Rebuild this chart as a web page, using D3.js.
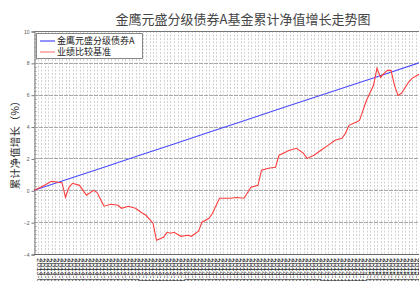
<!DOCTYPE html>
<html>
<head>
<meta charset="utf-8">
<script src="https://cdn.jsdelivr.net/npm/d3@7/dist/d3.min.js"></script>
<style>
  body { margin: 0; background: #fff; }
  svg { display: block; font-family: "Noto Sans CJK SC", "Noto Sans", sans-serif; }
</style>
</head>
<body>
<svg id="chart" width="419" height="281"></svg>
<script>
// chart texts
const titleText = "金鹰元盛分级债券A基金累计净值增长走势图";
const yLabelText = "累计净值增长（%）";
const seriesNames = ["金鹰元盛分级债券A", "业绩比较基准"];
const yTicks = [-4, -2, 0, 2, 4, 6, 8, 10];

// weekly dates on the x axis (one label per grid line)
const firstDate = new Date(2013, 2, 15);
const weekCount = 118;
const dateLabels = d3.timeWeek
  .every(1)
  .range(firstDate, d3.timeWeek.offset(firstDate, weekCount))
  .map(d3.timeFormat("%Y-%m-%d"));

// fund cumulative growth, [week index, %]
const fundSeries = [
  [0, 0], [10, 0.72], [20, 1.45], [30, 2.18], [40, 2.9], [50, 3.64],
  [60, 4.36], [70, 5.1], [80, 5.82], [90, 6.55], [100, 7.27], [110, 8.0],
  [117, 8.5],
];

// benchmark cumulative growth, [week index, %]
const benchSeries = [
  [0, 0], [1, 0.1], [3, 0.31], [5, 0.56], [7, 0.5], [8, 0.48], [9, -0.44],
  [10, 0.19], [11, 0.44], [13, 0.31], [15, -0.31], [17, 0], [18, -0.13],
  [19, -0.56], [20, -1.0], [22, -0.88], [24, -0.94], [25, -1.13], [27, -1.0],
  [29, -1.13], [31, -1.44], [32, -1.57], [34, -2.07], [35, -3.14], [37, -2.95],
  [38, -2.64], [39, -2.7], [40, -2.64], [42, -2.89], [44, -2.82], [45, -2.89],
  [47, -2.57], [48, -2.0], [50, -1.76], [51, -1.44], [53, -0.5], [56, -0.5],
  [58, -0.45], [60, -0.5], [62, 0.19], [64, 0.31], [65, 1.26], [67, 1.38],
  [69, 1.44], [70, 2.2], [73, 2.51], [75, 2.64], [77, 2.32], [78, 2.0],
  [80, 2.2], [82, 2.51], [84, 2.82], [86, 3.14], [88, 3.26], [89, 3.58],
  [90, 4.08], [92, 4.27], [93, 4.39], [94, 5.02], [95, 5.65], [97, 6.59],
  [98, 7.66], [99, 7.09], [100, 7.34], [101, 7.53], [102, 7.53], [103, 6.59],
  [104, 5.96], [105, 6.09], [107, 6.78], [108, 7.03], [110, 7.28], [112, 7.4],
];

const colors = { fund: "#4a4aff", bench: "#ff3c3c" };

/* plot frame */
const plot = { left: 34, top: 31, bottom: 254, step: 3.5 };
plot.right = plot.left + plot.step * (dateLabels.length - 1);

const svg = d3.select("#chart");

const x = d3.scaleLinear()
  .domain([0, dateLabels.length - 1])
  .range([plot.left, plot.right]);
const y = d3.scaleLinear()
  .domain([-4, 10])
  .range([plot.bottom, plot.top]);

// vertical dashed grid, one per date
svg.append("g")
  .selectAll("line")
  .data(dateLabels)
  .join("line")
  .attr("x1", (d, i) => Math.round(x(i)) + 0.5)
  .attr("x2", (d, i) => Math.round(x(i)) + 0.5)
  .attr("y1", plot.top)
  .attr("y2", plot.bottom)
  .attr("stroke", "#d2d2d2")
  .attr("stroke-dasharray", "2,1.5");

// horizontal grid
svg.append("g")
  .selectAll("line")
  .data(yTicks)
  .join("line")
  .attr("x1", plot.left)
  .attr("x2", plot.right)
  .attr("y1", (d) => Math.round(y(d)) + 0.5)
  .attr("y2", (d) => Math.round(y(d)) + 0.5)
  .attr("stroke", "#a8a8a8")
  .attr("stroke-dasharray", "4,1");

// left axis with ruler-like minor ticks
const yAxis = d3.axisLeft(y)
  .tickValues(yTicks)
  .tickSize(3)
  .tickPadding(2);
const yAxisG = svg.append("g")
  .attr("transform", `translate(${plot.left + 0.5},0.5)`)
  .call(yAxis);
yAxisG.select(".domain").attr("stroke", "#777");
yAxisG.selectAll(".tick line").attr("stroke", "#777");
yAxisG.selectAll(".tick text")
  .attr("fill", "#555")
  .style("font-size", "5px")
  .style("font-family", "Liberation Sans, Arial, sans-serif");
yAxisG.append("g")
  .selectAll("line")
  .data(d3.range(-4, 10.01, 0.25))
  .join("line")
  .attr("x1", 0)
  .attr("x2", 2)
  .attr("y1", (d) => Math.round(y(d)))
  .attr("y2", (d) => Math.round(y(d)))
  .attr("stroke", "#999");

// top and bottom frame lines
svg.append("line")
  .attr("x1", plot.left).attr("x2", plot.right)
  .attr("y1", plot.top + 0.5).attr("y2", plot.top + 0.5)
  .attr("stroke", "#777");
svg.append("line")
  .attr("x1", plot.left).attr("x2", plot.right)
  .attr("y1", plot.bottom + 0.5).attr("y2", plot.bottom + 0.5)
  .attr("stroke", "#666");

// x labels, rotated
svg.append("g")
  .selectAll("text")
  .data(dateLabels)
  .join("text")
  .attr("transform", (d, i) => `translate(${x(i) + 2.5},${plot.bottom + 4}) rotate(90)`)
  .attr("fill", "#333")
  .style("font-size", "8px")
  .style("font-family", "Liberation Sans, Arial, sans-serif")
  .text((d) => d);

// series lines
const line = d3.line()
  .x((d) => x(d[0]))
  .y((d) => y(d[1]));

svg.append("path")
  .datum(fundSeries)
  .attr("d", line)
  .attr("fill", "none")
  .attr("stroke", colors.fund)
  .attr("stroke-width", 1.1);

svg.append("path")
  .datum(benchSeries)
  .attr("d", line)
  .attr("fill", "none")
  .attr("stroke", colors.bench)
  .attr("stroke-width", 1.1);

// legend
const legend = svg.append("g").attr("transform", "translate(36,33)");
legend.append("rect")
  .attr("x", 0.5).attr("y", 0.5)
  .attr("width", 106).attr("height", 25)
  .attr("fill", "#fff")
  .attr("stroke", "#888");
const legendRows = legend.selectAll(".row")
  .data([
    { name: seriesNames[0], color: colors.fund },
    { name: seriesNames[1], color: "#ff8080" },
  ])
  .join("g")
  .attr("class", "row")
  .attr("transform", (d, i) => `translate(0,${8 + i * 11})`);
legendRows.append("line")
  .attr("x1", 4).attr("x2", 19)
  .attr("stroke", (d) => d.color)
  .attr("stroke-width", 1.2);
legendRows.append("text")
  .attr("x", 21)
  .attr("dy", "0.35em")
  .attr("fill", "#222")
  .style("font-size", "9px")
  .text((d) => d.name);

// title
svg.append("text")
  .attr("x", 243)
  .attr("y", 24)
  .attr("text-anchor", "middle")
  .attr("fill", "#444")
  .style("font-size", "13px")
  .text(titleText);

// y label
svg.append("text")
  .attr("transform", `translate(19,${(plot.top + plot.bottom) / 2}) rotate(-90)`)
  .attr("text-anchor", "middle")
  .attr("fill", "#333")
  .style("font-size", "10.5px")
  .text(yLabelText);
</script>
</body>
</html>
